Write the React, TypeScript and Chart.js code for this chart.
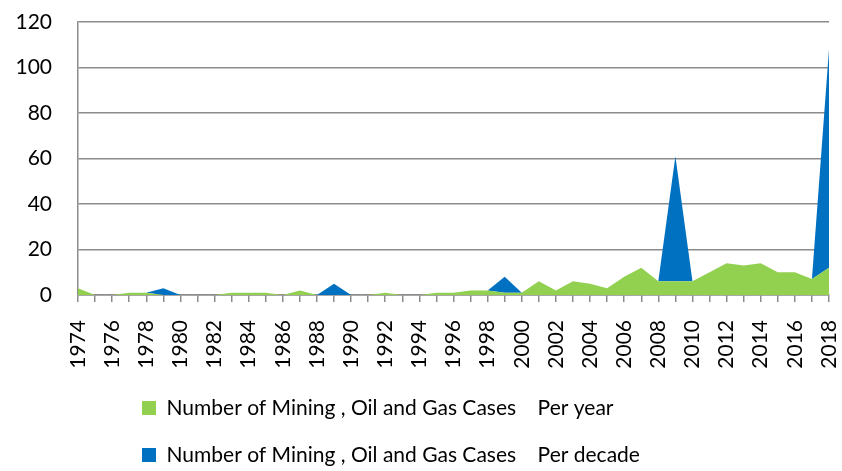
import React, { useEffect, useRef } from "react";
import { Chart, registerables } from "chart.js";

Chart.register(...registerables);

const years = [
  "1974", "1975", "1976", "1977", "1978", "1979", "1980", "1981", "1982", "1983",
  "1984", "1985", "1986", "1987", "1988", "1989", "1990", "1991", "1992", "1993",
  "1994", "1995", "1996", "1997", "1998", "1999", "2000", "2001", "2002", "2003",
  "2004", "2005", "2006", "2007", "2008", "2009", "2010", "2011", "2012", "2013",
  "2014", "2015", "2016", "2017", "2018",
];

// Number of Mining, Oil and Gas cases per year
const perYear = [
  3, 0, 0, 1, 1, 0, 0, 0, 0, 1,
  1, 1, 0, 2, 0, 0, 0, 0, 1, 0,
  0, 1, 1, 2, 2, 1, 1, 6, 2, 6,
  5, 3, 8, 12, 6, 6, 6, 10, 14, 13,
  14, 10, 10, 7, 12,
];

// Number of Mining, Oil and Gas cases per decade (stacked on top of per-year)
const perDecade = [
  0, 0, 0, 0, 0, 3, 0, 0, 0, 0,
  0, 0, 0, 0, 0, 5, 0, 0, 0, 0,
  0, 0, 0, 0, 0, 7, 0, 0, 0, 0,
  0, 0, 0, 0, 0, 55, 0, 0, 0, 0,
  0, 0, 0, 0, 96,
];

const yTicks = [0, 20, 40, 60, 80, 100, 120];

const legendLabels = [
  "Number of Mining , Oil and Gas Cases    Per year",
  "Number of Mining , Oil and Gas Cases    Per decade",
];

const GREEN = "#92D050";
const BLUE = "#0070C0";
const GRID = "#8c8c8c";
const FONT = "Lato";
const FONT_SIZE = 21;
const LEGEND_LEFT = 142;

const alignLegendRows = {
  id: "alignLegendRows",
  beforeDraw(chart: any) {
    const lg = chart.legend;
    if (lg && lg.lineWidths && lg.lineWidths.length) {
      const pad = lg.options.labels.padding;
      const w = lg.left + pad + lg.right - 2 * LEGEND_LEFT;
      lg.lineWidths = lg.lineWidths.map(() => w);
    }
  },
};

export default function App() {
  const ref = useRef<HTMLCanvasElement>(null);

  useEffect(() => {
    if (!ref.current) return;
    const chart = new Chart(ref.current, {
      type: "line",
      data: {
        labels: years,
        datasets: [
          {
            label: legendLabels[0],
            data: perYear,
            backgroundColor: GREEN,
            borderColor: GREEN,
            borderWidth: 0,
            pointRadius: 0,
            fill: "origin",
            tension: 0,
          },
          {
            label: legendLabels[1],
            data: perDecade,
            backgroundColor: BLUE,
            borderColor: BLUE,
            borderWidth: 0,
            pointRadius: 0,
            fill: "-1",
            tension: 0,
          },
        ],
      },
      options: {
        animation: false,
        responsive: true,
        maintainAspectRatio: false,
        layout: { padding: { top: 22, right: 13, left: 0, bottom: -4.5 } },
        plugins: {
          tooltip: { enabled: false },
          legend: {
            position: "bottom",
            align: "center",
            labels: {
              boxWidth: 14,
              boxHeight: 14,
              padding: 26,
              color: "#000",
              font: { family: FONT, size: FONT_SIZE },
            },
          },
        },
        scales: {
          x: {
            stacked: true,
            offset: false,
            afterFit: (s: any) => {
              s.height = 76.5;
              s.paddingLeft = 0;
              s.paddingRight = 0;
            },
            grid: {
              drawOnChartArea: false,
              drawTicks: true,
              tickLength: 7,
              color: GRID,
              lineWidth: 1.5,
            },
            border: { color: GRID, width: 1.5 },
            ticks: {
              autoSkip: false,
              minRotation: 90,
              maxRotation: 90,
              padding: 18,
              color: "#000",
              font: { family: FONT, size: FONT_SIZE },
              callback: (_v: any, i: number) => (i % 2 === 0 ? years[i] : ""),
            },
          },
          y: {
            stacked: true,
            min: 0,
            max: 120,
            afterFit: (s: any) => {
              s.width = 78;
              s.paddingTop = 0;
              s.paddingBottom = 0;
            },
            afterBuildTicks: (s: any) => {
              s.ticks = yTicks.map((v) => ({ value: v }));
            },
            grid: { drawTicks: false, color: GRID, lineWidth: 1.5 },
            border: { color: GRID, width: 1.5 },
            ticks: {
              padding: 26,
              color: "#000",
              font: { family: FONT, size: FONT_SIZE },
            },
          },
        },
      },
      plugins: [alignLegendRows],
    });
    return () => chart.destroy();
  }, []);

  return (
    <div style={{ position: "fixed", left: 0, top: 0, width: 842, height: 471, background: "#fff" }}>
      <canvas ref={ref} />
    </div>
  );
}
